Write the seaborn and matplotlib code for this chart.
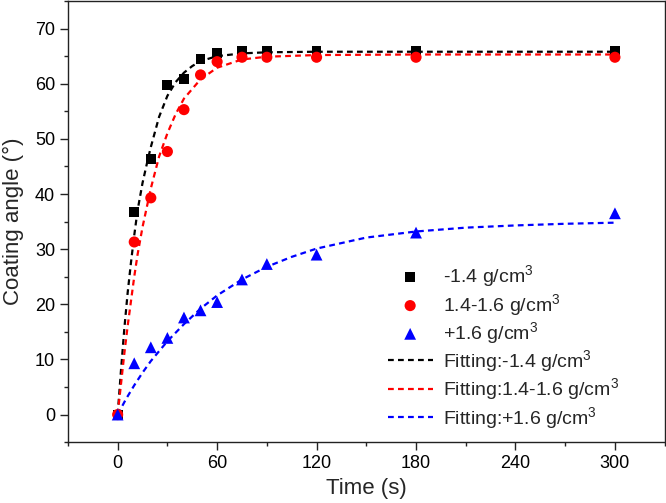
import matplotlib
matplotlib.use("Agg")
import matplotlib.pyplot as plt
from matplotlib.ticker import MultipleLocator
import numpy as np
import pandas as pd
import seaborn as sns

# measured points
time_s = [0, 10, 20, 30, 40, 50, 60, 75, 90, 120, 180, 300]
angle_low = [0, 36.7, 46.3, 59.8, 60.9, 64.5, 65.6, 65.9, 65.9, 65.9, 65.9, 65.9]
angle_mid = [0, 31.3, 39.3, 47.7, 55.3, 61.6, 64.0, 64.8, 64.8, 64.8, 64.8, 64.8]
angle_high = [0, 9.3, 12.2, 13.9, 17.6, 18.9, 20.4, 24.5, 27.3, 29.0, 33.0, 36.5]

# fitted curves
fit_t_low = [0, 2, 4, 6, 8, 10, 12, 15, 18, 20, 25, 30, 35, 40, 45, 50, 60, 75, 90, 120, 180, 300]
fit_low = [0, 8, 15.5, 22, 27.5, 32.5, 37, 42, 46, 48.5, 54, 57.8, 60.3, 62, 63.2, 64.1,
           65.0, 65.5, 65.7, 65.8, 65.8, 65.8]
fit_t_mid = [0, 2, 4, 6, 8, 10, 12, 15, 20, 25, 30, 35, 40, 50, 60, 75, 90, 120, 180, 300]
fit_mid = [0, 5.5, 11, 16, 20.5, 25, 29, 34, 41, 46.8, 51, 54.5, 57.3, 60.8, 62.9, 64.4,
           64.9, 65.2, 65.3, 65.3]
fit_t_high = [0, 5, 10, 15, 20, 30, 40, 50, 60, 75, 90, 105, 120, 150, 180, 210, 240, 270, 300]
fit_high = [0, 2.8, 5.3, 7.6, 9.7, 13.3, 16.4, 19.2, 21.6, 24.5, 26.8, 28.6, 30.1, 32.1,
            33.2, 33.9, 34.3, 34.6, 34.8]

labels = ["-1.4 g/cm$^3$", "1.4-1.6 g/cm$^3$", "+1.6 g/cm$^3$"]
colors = ["#000000", "#ff0000", "#0000ff"]
markers = ["s", "o", "^"]
sizes = [50, 64, 72]

sns.set_style("ticks")
plt.rcParams["font.family"] = ["Liberation Sans", "DejaVu Sans"]
plt.rcParams["mathtext.fontset"] = "custom"
plt.rcParams["mathtext.rm"] = "Liberation Sans"
plt.rcParams["mathtext.it"] = "Liberation Sans"
plt.rcParams["lines.dashed_pattern"] = [2.6, 1.9]

fig = plt.figure(figsize=(6.66, 5.03), dpi=100)
ax = fig.add_axes([0.102, 0.121, 0.896, 0.877])

for y, lab, c, m, s in zip([angle_low, angle_mid, angle_high], labels, colors, markers, sizes):
    sns.scatterplot(x=time_s, y=y, ax=ax, marker=m, color=c, s=s, edgecolor="none",
                    label=lab, zorder=3)

fits = [(fit_t_low, fit_low), (fit_t_mid, fit_mid), (fit_t_high, fit_high)]
for (ft, fy), lab, c in zip(fits, labels, colors):
    sns.lineplot(x=ft, y=fy, ax=ax, color=c, linestyle="--", linewidth=1.6,
                 label="Fitting:" + lab, zorder=2)

ax.set_xlim(-30, 330)
ax.set_ylim(-5, 75)
ax.xaxis.set_major_locator(MultipleLocator(60))
ax.xaxis.set_minor_locator(MultipleLocator(30))
ax.yaxis.set_major_locator(MultipleLocator(10))
ax.yaxis.set_minor_locator(MultipleLocator(5))
ax.tick_params(which="major", direction="out", length=5.8, width=1.0, labelsize=13,
               colors="#222222", labelcolor="black")
ax.tick_params(which="minor", direction="out", length=3, width=1.0, colors="#222222")
for sp in ax.spines.values():
    sp.set_visible(True)
    sp.set_linewidth(1.0)
    sp.set_color("#222222")

ax.set_xlabel("Time (s)", fontsize=16, labelpad=4)
ax.set_ylabel("Coating angle (°)", fontsize=16, labelpad=8)

ax.legend(loc="upper left", bbox_to_anchor=(0.536, 0.405), frameon=False, fontsize=14,
          borderpad=0, borderaxespad=0, labelspacing=0.12, handlelength=2.3,
          handletextpad=0.55)

fig.savefig("out.png", dpi=100)
